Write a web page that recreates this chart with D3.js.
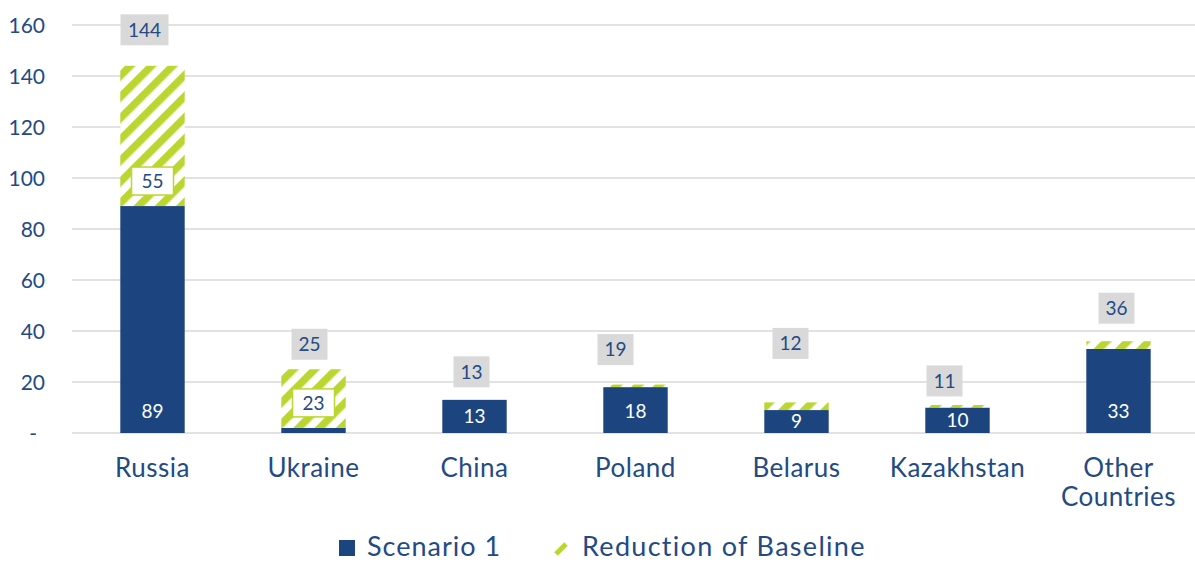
<!DOCTYPE html>
<html>
<head>
<meta charset="utf-8">
<script src="https://cdn.jsdelivr.net/npm/d3@7"></script>
<style>
  body { margin: 0; background: #fff; }
  svg { display: block; font-family: "Lato", sans-serif; }
</style>
</head>
<body>
<div class="chart"></div>
<script>
const countries = ["Russia", "Ukraine", "China", "Poland", "Belarus", "Kazakhstan", "Other Countries"];
const scenario1 = [89, 2, 13, 18, 9, 10, 33];
const reduction = [55, 23, 0, 1, 3, 1, 3];
const totals = [144, 25, 13, 19, 12, 11, 36];
const yTicks = [0, 20, 40, 60, 80, 100, 120, 140, 160];

// hand-placed total labels in the original (pixel nudges from bar top)
const totalNudge = [[-8, -36], [-4, -25], [-3, -28], [-20, -35], [-6, -59], [-13, -24], [-2, -33]];

const svgWidth = 1195;
const svgHeight = 563;
const blue = "#1c4580";
const green = "#bcd631";
const textBlue = "#234a84";

const svg = d3.select(".chart").append("svg")
    .attr("width", svgWidth)
    .attr("height", svgHeight);

const defs = svg.append("defs");
const pat = defs.append("pattern")
    .attr("id", "stripes")
    .attr("patternUnits", "userSpaceOnUse")
    .attr("width", 15)
    .attr("height", 15)
    .attr("patternTransform", "rotate(45)");
pat.append("rect").attr("width", 15).attr("height", 15).attr("fill", "#fff");
pat.append("rect").attr("width", 7.5).attr("height", 15).attr("fill", green);

const x = d3.scaleBand()
    .domain(countries)
    .range([72, 1199])
    .paddingInner(0.6)
    .paddingOuter(0.3);

const y = d3.scaleLinear()
    .domain([0, 160])
    .range([433, 25]);

// gridlines
svg.append("g").selectAll("line")
    .data(yTicks)
    .enter()
    .append("line")
    .attr("x1", 72)
    .attr("x2", svgWidth)
    .attr("y1", d => y(d))
    .attr("y2", d => y(d))
    .attr("stroke", "#d9d9d9")
    .attr("stroke-width", 1.5);

// y tick labels
svg.append("g").selectAll("text")
    .data(yTicks)
    .enter()
    .append("text")
    .attr("x", d => d === 0 ? 37 : 45)
    .attr("y", d => y(d))
    .attr("dy", "0.36em")
    .attr("text-anchor", "end")
    .attr("fill", textBlue)
    .style("font-size", "21px")
    .text(d => d === 0 ? "-" : d);

// scenario 1 bars
svg.append("g").selectAll("rect")
    .data(countries)
    .enter()
    .append("rect")
    .attr("x", d => x(d))
    .attr("width", x.bandwidth())
    .attr("y", (d, i) => y(scenario1[i]))
    .attr("height", (d, i) => y(0) - y(scenario1[i]))
    .attr("fill", blue);

// reduction bars (striped)
svg.append("g").selectAll("rect")
    .data(countries)
    .enter()
    .append("rect")
    .attr("x", d => x(d))
    .attr("width", x.bandwidth())
    .attr("y", (d, i) => y(scenario1[i] + reduction[i]))
    .attr("height", (d, i) => y(scenario1[i]) - y(scenario1[i] + reduction[i]))
    .attr("fill", "url(#stripes)");

// scenario 1 labels
svg.append("g").selectAll("text")
    .data(countries)
    .enter()
    .filter((d, i) => scenario1[i] > 5)
    .append("text")
    .attr("x", d => x(d) + x.bandwidth() / 2)
    .attr("y", d => {
        const i = countries.indexOf(d);
        const mid = (y(0) + y(scenario1[i])) / 2;
        return Math.max(mid, y(0) - 22);
    })
    .attr("dy", "0.36em")
    .attr("text-anchor", "middle")
    .attr("fill", "#fff")
    .style("font-size", "19px")
    .text(d => scenario1[countries.indexOf(d)]);

// reduction labels (boxed)
const redGroup = svg.append("g").selectAll("g")
    .data(countries.filter((d, i) => reduction[i] > 10))
    .enter()
    .append("g")
    .attr("transform", d => {
        const i = countries.indexOf(d);
        const base = y(scenario1[i]);
        const mid = (base + y(scenario1[i] + reduction[i])) / 2;
        return `translate(${x(d) + x.bandwidth() / 2}, ${Math.max(mid, base - 25)})`;
    });
redGroup.append("rect")
    .attr("x", -21)
    .attr("y", -14)
    .attr("width", 42)
    .attr("height", 28)
    .attr("fill", "#fff")
    .attr("stroke", green)
    .attr("stroke-width", 1.5);
redGroup.append("text")
    .attr("dy", "0.36em")
    .attr("text-anchor", "middle")
    .attr("fill", textBlue)
    .style("font-size", "19px")
    .text(d => reduction[countries.indexOf(d)]);

// total labels (gray boxes)
const totGroup = svg.append("g").selectAll("g")
    .data(countries)
    .enter()
    .append("g")
    .attr("transform", (d, i) =>
        `translate(${x(d) + x.bandwidth() / 2 + totalNudge[i][0]}, ${y(totals[i]) + totalNudge[i][1]})`);
totGroup.append("rect")
    .attr("x", (d, i) => totals[i] >= 100 ? -24 : -18)
    .attr("y", -15.5)
    .attr("width", (d, i) => totals[i] >= 100 ? 48 : 36)
    .attr("height", 31)
    .attr("fill", "#d9d9d9");
totGroup.append("text")
    .attr("dy", "0.36em")
    .attr("text-anchor", "middle")
    .attr("fill", textBlue)
    .style("font-size", "19px")
    .text((d, i) => totals[i]);

// x labels
const xLabels = svg.append("g").selectAll("text")
    .data(countries)
    .enter()
    .append("text")
    .attr("x", d => x(d) + x.bandwidth() / 2)
    .attr("y", 477)
    .attr("text-anchor", "middle")
    .attr("fill", textBlue)
    .style("font-size", "26px")
    .style("letter-spacing", "0.5px");
xLabels.each(function (d) {
    const words = d === "Other Countries" ? ["Other", "Countries"] : [d];
    const t = d3.select(this);
    words.forEach((w, k) => {
        t.append("tspan")
            .attr("x", x(d) + x.bandwidth() / 2)
            .attr("dy", k === 0 ? 0 : 29)
            .text(w);
    });
});

// legend
const legend = svg.append("g");
legend.append("rect")
    .attr("x", 339)
    .attr("y", 540)
    .attr("width", 16)
    .attr("height", 16)
    .attr("fill", blue);
legend.append("text")
    .attr("x", 367)
    .attr("y", 556)
    .attr("fill", textBlue)
    .style("font-size", "27px")
    .style("letter-spacing", "1px")
    .text("Scenario 1");
legend.append("line")
    .attr("x1", 556)
    .attr("y1", 554)
    .attr("x2", 566)
    .attr("y2", 544)
    .attr("stroke", green)
    .attr("stroke-width", 5);
legend.append("text")
    .attr("x", 582)
    .attr("y", 556)
    .attr("fill", textBlue)
    .style("font-size", "27px")
    .style("letter-spacing", "1.3px")
    .text("Reduction of Baseline");
</script>
</body>
</html>
